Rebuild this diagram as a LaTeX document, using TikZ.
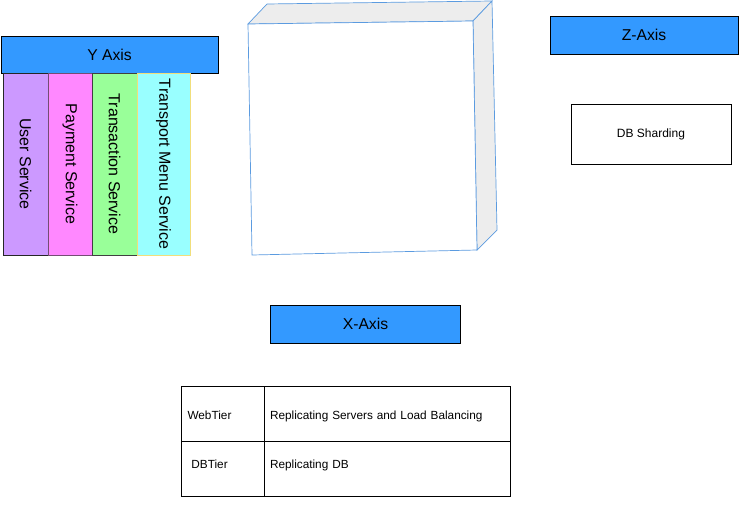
\documentclass[tikz,border=0pt]{standalone}
\usepackage{fontspec}
\setmainfont{Liberation Sans}
\usepackage{xcolor}
\usepackage{tikz}
\definecolor{axisblue}{HTML}{3399FF}
\definecolor{cubeline}{HTML}{5B9BE0}
\definecolor{cubeside}{HTML}{EDEDED}
\definecolor{svcpurple}{HTML}{CC99FF}
\definecolor{svcpink}{HTML}{FF88FF}
\definecolor{svcgreen}{HTML}{99FF99}
\definecolor{svccyan}{HTML}{99FFFF}
\tikzset{
  axisbox/.style  = {shape=rectangle, draw, fill=axisblue, line width=0.8pt,
                     font=\fontsize{15.7}{18}\selectfont},
  svcbox/.style   = {shape=rectangle, draw, line width=0.8pt, rotate=-90,
                     minimum width=182pt, font=\fontsize{16}{18}\selectfont},
  notebox/.style  = {shape=rectangle, draw, line width=0.8pt,
                     font=\fontsize{12}{14}\selectfont},
  cell/.style     = {shape=rectangle, draw, line width=0.8pt, minimum height=55pt,
                     align=left, font=\fontsize{11.8}{14}\selectfont},
  toprow/.style   = {cell, text height=12pt, text depth=0pt},
  lowrow/.style   = {cell, text height=6pt, text depth=6pt}
}

\begin{document}
\begin{tikzpicture}
  [
    x = 1pt,
    y = -1pt,
    every node/.style = {inner sep=0pt, outer sep=0pt}
  ]
  \useasboundingbox (0,0) rectangle (741,505);

  % Y axis and its services
  \node [axisbox, minimum width=217pt, minimum height=37pt] (yaxis) at (109.5,54.5) {Y Axis};
  \node [svcbox, fill=svcpurple, draw=black!85, minimum height=45pt] (user) at (25.5,164) {User Service};
  \node [svcbox, fill=svcpink, draw=violet!45!black!70, minimum height=44pt] (payment) at (70,164) {Payment Service};
  \node [svcbox, fill=svcgreen, draw=black!75, minimum height=45pt] (transaction) at (114.5,164) {Transaction Service};
  \node [svcbox, fill=svccyan, draw=yellow!60!brown!60, minimum height=53pt] (transport) at (163.5,164) {Transport Menu Service};

  % the cube
  \filldraw [cubeline, fill=cubeside, line width=0.7pt]
    (248,24) -- (267,4) -- (492,1) -- (473,21) -- cycle;
  \filldraw [cubeline, fill=cubeside, line width=0.7pt]
    (473,21) -- (492,1) -- (497,230) -- (477,250) -- cycle;
  \filldraw [cubeline, fill=white, line width=0.7pt]
    (248,24) -- (473,21) -- (477,250) -- (252,255) -- cycle;

  % Z axis
  \node [axisbox, minimum width=188pt, minimum height=38pt] (zaxis) at (644,35) {Z-Axis};
  \node [notebox, minimum width=160pt, minimum height=60pt] (sharding) at (651,134) {DB Sharding};

  % X axis
  \node [axisbox, minimum width=190pt, minimum height=38pt] (xaxis) at (365.5,324) {X-Axis};

  \node [toprow, minimum width=83pt, text width=70pt, inner xsep=6.5pt] (webtier) at (222.5,413.5) {WebTier};
  \node [toprow, minimum width=246pt, text width=234pt, inner xsep=6pt] (webdesc) at (387,413.5) {Replicating Servers and Load Balancing};
  \node [lowrow, minimum width=83pt, text width=70pt, inner xsep=6.5pt] (dbtier) at (222.5,468.5) {\ DBTier};
  \node [lowrow, minimum width=246pt, text width=234pt, inner xsep=6pt] (dbdesc) at (387,468.5) {Replicating DB};
\end{tikzpicture}
\end{document}
